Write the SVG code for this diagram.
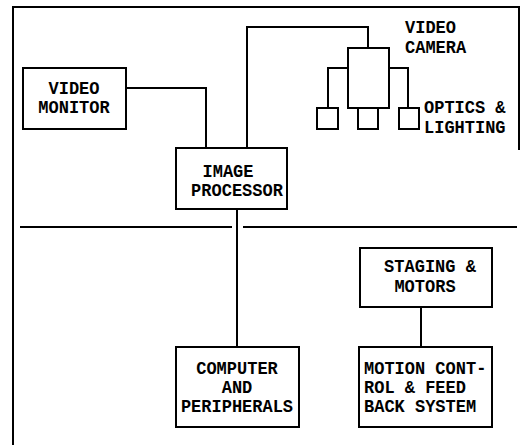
<svg xmlns="http://www.w3.org/2000/svg" width="520" height="445" viewBox="0 0 520 445">
<style>
.box{fill:#fff;stroke:#000;stroke-width:2}
.ln{fill:none;stroke:#000;stroke-width:2}
.t{font-family:"Liberation Mono",monospace;font-weight:bold;font-size:17px;fill:#000}
.c{text-anchor:middle}
</style>
<rect width="520" height="445" fill="#fff"/>
<g id="frame">
<path class="ln" d="M13,445 V7 H519 V150"/>
<path class="ln" d="M20,227 H232 M243,227 H517" stroke-width="1.5"/>
</g>
<g id="connectors">
<path class="ln" d="M126,88 H206 V148"/>
<path class="ln" d="M247,148 V27 H368 V48"/>
<path class="ln" d="M348,68 H328 V108"/>
<path class="ln" d="M389,68 H408 V108"/>
<path class="ln" d="M237,209 V347"/>
<path class="ln" d="M421,307 V347"/>
</g>
<g id="video-monitor">
<rect class="box" x="23" y="68" width="103" height="61"/>
<text class="t c" transform="translate(74,94) scale(1,1.1)">VIDEO</text>
<text class="t c" transform="translate(74,113) scale(1,1.1)">MONITOR</text>
</g>
<g id="image-processor">
<rect class="box" x="176" y="148" width="111" height="61"/>
<text class="t c" transform="translate(228,177) scale(1,1.1)">IMAGE</text>
<text class="t c" transform="translate(237,196) scale(1,1.1)">PROCESSOR</text>
</g>
<g id="video-camera">
<rect class="box" x="348" y="48" width="41" height="60"/>
<text class="t" transform="translate(405,33) scale(1,1.1)">VIDEO</text>
<text class="t" transform="translate(405,53) scale(1,1.1)">CAMERA</text>
</g>
<g id="optics-lighting">
<rect class="box" x="317" y="108" width="21" height="21"/>
<rect class="box" x="358" y="108" width="20" height="21"/>
<rect class="box" x="399" y="108" width="20" height="21"/>
<text class="t" transform="translate(424,113) scale(1,1.1)">OPTICS &amp;</text>
<text class="t" transform="translate(424,133) scale(1,1.1)">LIGHTING</text>
</g>
<g id="computer">
<rect class="box" x="176" y="347" width="123" height="80"/>
<text class="t c" transform="translate(237,374) scale(1,1.1)">COMPUTER</text>
<text class="t c" transform="translate(237,393) scale(1,1.1)">AND</text>
<text class="t c" transform="translate(237,412) scale(1,1.1)">PERIPHERALS</text>
</g>
<g id="staging">
<rect class="box" x="360" y="248" width="132" height="59"/>
<text class="t c" transform="translate(430,272) scale(1,1.1)">STAGING &amp;</text>
<text class="t c" transform="translate(425,292) scale(1,1.1)">MOTORS</text>
</g>
<g id="motion-control">
<rect class="box" x="359" y="347" width="133" height="80"/>
<text class="t" transform="translate(364,374) scale(1,1.1)">MOTION CONT-</text>
<text class="t" transform="translate(364,393) scale(1,1.1)">ROL &amp; FEED</text>
<text class="t" transform="translate(364,412) scale(1,1.1)">BACK SYSTEM</text>
</g>
</svg>
